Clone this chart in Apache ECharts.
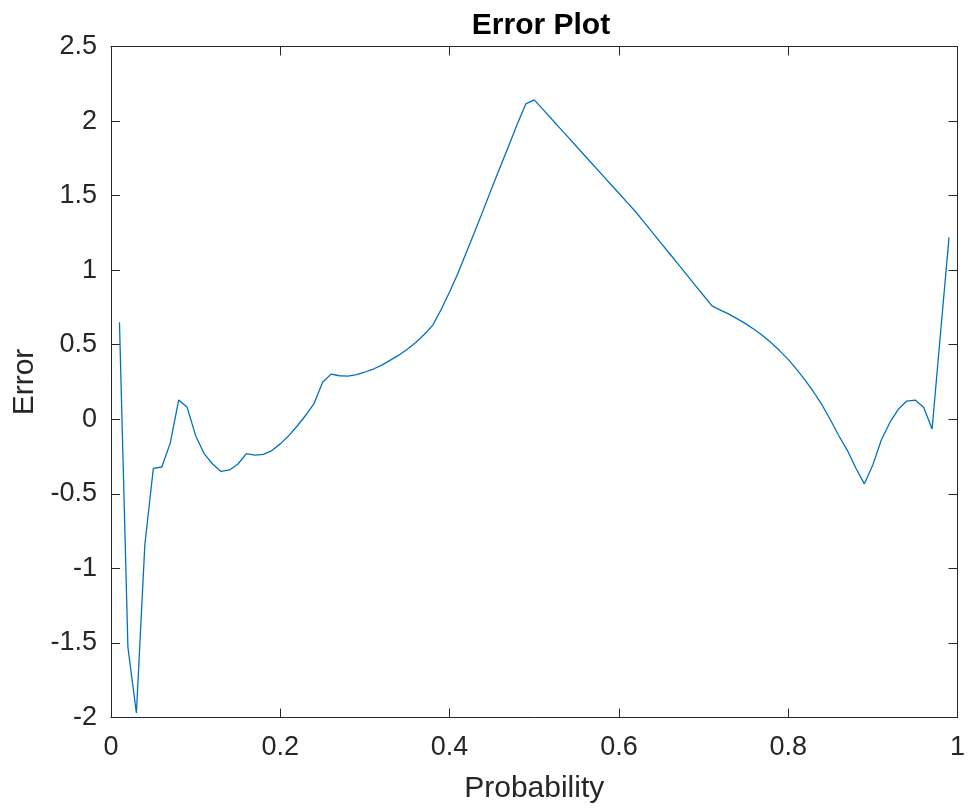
<!DOCTYPE html>
<html>
<head>
<meta charset="utf-8">
<title>Error Plot</title>
<script src="https://cdn.jsdelivr.net/npm/echarts@6/dist/echarts.min.js"></script>
<style>
	html, body { margin: 0; padding: 0; background: #fff; }
	#error-plot { width: 968px; height: 810px; }
</style>
</head>
<body>
<div id="error-plot"></div>
<script>
	// probability grid (x) and error values (y)
	const probability = [
		0.01, 0.02, 0.03, 0.04, 0.05, 0.06, 0.07, 0.08, 0.09, 0.10,
		0.11, 0.12, 0.13, 0.14, 0.15, 0.16, 0.17, 0.18, 0.19, 0.20,
		0.21, 0.22, 0.23, 0.24, 0.25, 0.26, 0.27, 0.28, 0.29, 0.30,
		0.31, 0.32, 0.33, 0.34, 0.35, 0.36, 0.37, 0.38, 0.39, 0.40,
		0.41, 0.42, 0.43, 0.44, 0.45, 0.46, 0.47, 0.48, 0.49, 0.50,
		0.51, 0.52, 0.53, 0.54, 0.55, 0.56, 0.57, 0.58, 0.59, 0.60,
		0.61, 0.62, 0.63, 0.64, 0.65, 0.66, 0.67, 0.68, 0.69, 0.70,
		0.71, 0.72, 0.73, 0.74, 0.75, 0.76, 0.77, 0.78, 0.79, 0.80,
		0.81, 0.82, 0.83, 0.84, 0.85, 0.86, 0.87, 0.88, 0.89, 0.90,
		0.91, 0.92, 0.93, 0.94, 0.95, 0.96, 0.97, 0.98, 0.99
	];

	const error = [
		0.65, -1.53, -1.97, -0.84, -0.33, -0.32, -0.16, 0.13, 0.08, -0.11,
		-0.23, -0.30, -0.35, -0.34, -0.30, -0.23, -0.24, -0.235, -0.21, -0.165,
		-0.11, -0.045, 0.027, 0.107, 0.248, 0.303, 0.292, 0.29, 0.30, 0.317,
		0.337, 0.363, 0.397, 0.43, 0.47, 0.515, 0.569, 0.63, 0.736, 0.854,
		0.981, 1.122, 1.262, 1.406, 1.553, 1.695, 1.836, 1.981, 2.115, 2.142,
		2.08, 2.017, 1.954, 1.892, 1.829, 1.766, 1.704, 1.641, 1.578, 1.516,
		1.453, 1.39, 1.32, 1.25, 1.18, 1.11, 1.04, 0.97, 0.90, 0.83,
		0.76, 0.732, 0.705, 0.673, 0.64, 0.602, 0.56, 0.513, 0.459, 0.402,
		0.335, 0.263, 0.183, 0.096, -0.005, -0.112, -0.21, -0.328, -0.433, -0.306,
		-0.139, -0.023, 0.067, 0.122, 0.129, 0.08, -0.065, 0.58, 1.22
	];

	const xTicks = { min: 0, max: 1, interval: 0.2 };
	const yTicks = { min: -2, max: 2.5, interval: 0.5 };

	const font = '"Liberation Sans", Arial, Helvetica, sans-serif';
	const axisColor = '#262626';

	let seriesData = [];
	probability.forEach(function(p, i) {
		seriesData.push([p, error[i]]);
	});

	// plain box axis, ticks pointing inward like matlab
	function boxAxis(position, showLabel) {
		let isX = position == 'top' || position == 'bottom';
		let ticks = isX ? xTicks : yTicks;
		return {
			type: 'value',
			position: position,
			min: ticks.min,
			max: ticks.max,
			interval: ticks.interval,
			splitLine: { show: false },
			axisLine: { show: true, onZero: false, lineStyle: { color: axisColor, width: 1 } },
			axisTick: { show: true, inside: true, length: 9, lineStyle: { color: axisColor, width: 1 } },
			axisLabel: {
				show: showLabel,
				color: axisColor,
				fontFamily: font,
				fontSize: 27,
				margin: position == 'bottom' ? 17 : 14
			}
		};
	}

	let myChart = echarts.init(document.getElementById('error-plot'));

	let bottomAxis = boxAxis('bottom', true);
	bottomAxis.name = 'Probability';
	bottomAxis.nameLocation = 'middle';
	bottomAxis.nameGap = 56;
	bottomAxis.nameTextStyle = { color: axisColor, fontFamily: font, fontSize: 30 };

	let leftAxis = boxAxis('left', true);
	leftAxis.name = 'Error';
	leftAxis.nameLocation = 'middle';
	leftAxis.nameGap = 71;
	leftAxis.nameTextStyle = { color: axisColor, fontFamily: font, fontSize: 30 };

	let option = {
		animation: false,
		backgroundColor: '#ffffff',
		title: {
			text: 'Error Plot',
			left: 536,
			top: 6,
			textAlign: 'center',
			textStyle: { color: '#000', fontFamily: font, fontSize: 30, fontWeight: 'bold' }
		},
		grid: {
			left: 111,
			right: 7.5,
			top: 46.5,
			bottom: 92.5
		},
		xAxis: [ bottomAxis, boxAxis('top', false) ],
		yAxis: [ leftAxis, boxAxis('right', false) ],
		series: [
			{
				type: 'line',
				xAxisIndex: 0,
				yAxisIndex: 0,
				showSymbol: false,
				symbol: 'none',
				lineStyle: { color: '#0072BD', width: 1.3 },
				data: seriesData
			}
		]
	};

	myChart.setOption(option);
</script>
</body>
</html>
